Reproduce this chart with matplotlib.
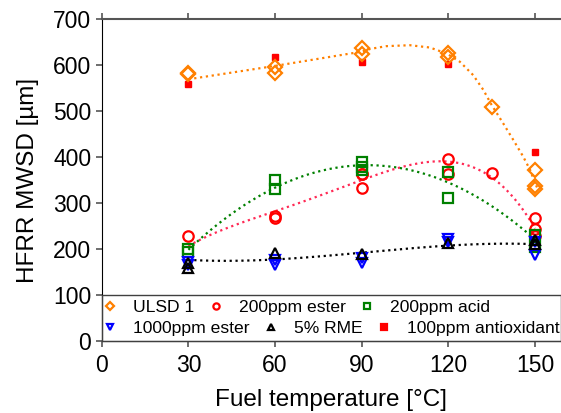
import numpy as np
import matplotlib
matplotlib.use("Agg")
import matplotlib.pyplot as plt
from matplotlib.lines import Line2D
from matplotlib.patches import Rectangle

plt.rcParams['font.family'] = ['Liberation Sans', 'DejaVu Sans']

# HFRR wear scar (um) vs fuel temperature (C)
ulsd_t = [30, 30, 60, 60, 90, 90, 120, 120, 135, 150, 150, 150]
ulsd_v = [582, 580, 596, 583, 636, 624, 625, 617, 508, 372, 338, 330]

ester200_t = [30, 60, 60, 90, 90, 90, 120, 120, 135, 150, 150, 150]
ester200_v = [228, 272, 268, 364, 362, 332, 395, 364, 366, 267, 243, 228]

acid200_t = [30, 30, 60, 60, 90, 90, 90, 120, 120, 150, 150]
acid200_v = [201, 194, 351, 330, 390, 379, 372, 368, 310, 230, 205]

ester1000_t = [30, 30, 60, 60, 90, 90, 120, 120, 150, 150]
ester1000_v = [172, 165, 176, 165, 180, 169, 221, 216, 215, 187]

rme_t = [30, 30, 60, 90, 120, 150, 150]
rme_v = [169, 158, 192, 190, 212, 220, 210]

antiox_t = [30, 60, 90, 120, 150]
antiox_v = [559, 617, 607, 602, 411]

# trend lines as drawn in the reference
ulsd_fit_t = [30, 60, 90, 93, 98.6, 106.7, 113.6, 119.4, 124, 128.6, 132.1,
              135, 139, 142.5, 145.9, 148.3, 150, 151]
ulsd_fit_v = [569, 598, 629, 635, 641, 643, 638, 625, 607, 578, 546,
              513, 473, 437, 401, 372, 343, 330]

ester200_fit_t = [30, 60, 87, 100, 115, 120, 134.4, 147.1, 150]
ester200_fit_v = [207, 280, 346, 375, 385, 384, 366, 277, 240]

acid200_fit_t = [30, 60, 92, 120, 134.4, 147.1, 151]
acid200_fit_v = [200, 330, 383, 346, 296, 241, 210]

rme_fit_t = [30, 60, 90, 96, 120, 150, 152]
rme_fit_v = [176, 179, 189, 196, 209, 210, 210]

series = [
    # label, t, v, marker, colour
    ("ULSD 1", ulsd_t, ulsd_v, "D", "#ff8000"),
    ("200ppm ester", ester200_t, ester200_v, "o", "#ff0000"),
    ("200ppm acid", acid200_t, acid200_v, "s", "#008000"),
    ("1000ppm ester", ester1000_t, ester1000_v, "v", "#0000ff"),
    ("5% RME", rme_t, rme_v, "^", "#000000"),
]

trends = [
    # t, v, polynomial degree (None = draw through the read points), colour
    (ulsd_fit_t, ulsd_fit_v, None, "#ff8000"),
    (ester200_fit_t, ester200_fit_v, 4, "#ff2a55"),
    (acid200_fit_t, acid200_fit_v, 2, "#008000"),
    (rme_fit_t, rme_fit_v, 3, "#000000"),
]

fig = plt.figure(figsize=(5.61, 4.13), dpi=100)
ax = fig.add_axes([0.1813, 0.1743, 0.8187, 0.7797])

for t, v, deg, fc in trends:
    if deg is None:
        ax.plot(t, v, ':', color=fc, lw=1.6, zorder=2)
        continue
    coef = np.polyfit(t, v, deg)
    xs = np.linspace(min(t), max(t), 200)
    ax.plot(xs, np.polyval(coef, xs), ':', color=fc, lw=1.6, zorder=2)

# antioxidant sits under the diamonds
ax.plot(antiox_t, antiox_v, 's', color='#ff0000', ms=5, mec='#ff0000', zorder=3)

sizes = {"D": 7.5, "o": 7.5, "s": 6.8, "v": 7.2, "^": 7.2}
for label, t, v, m, c in series:
    ax.plot(t, v, m, ms=sizes[m], mfc='none', mec=c, mew=1.6, zorder=4)

ax.set_xlim(0, 159)
ax.set_ylim(0, 700)
ax.set_xticks([0, 30, 60, 90, 120, 150])
ax.set_yticks(np.arange(0, 701, 100))

ax.spines['right'].set_visible(False)
ax.spines['top'].set_color('#555555')
ax.spines['top'].set_linewidth(1.5)
ax.spines['left'].set_color('black')
ax.spines['bottom'].set_color('#333333')
ax.tick_params(axis='both', labelsize=16.5, color='#555555', length=4, width=1.2, direction='out')
ax.tick_params(axis='x', which='both', top=True, pad=5)

ax.set_xlabel("Fuel temperature [°C]", fontsize=17.5, labelpad=9)
ax.set_ylabel("HFRR MWSD [µm]", fontsize=17.5, labelpad=10)

# legend: two rows laid out like the original, inside a frame at the bottom
ax.add_patch(Rectangle((0, 0), 1, 100 / 700, transform=ax.transAxes, fill=False,
                       edgecolor='#404040', lw=1.0, zorder=5, clip_on=False))

def handle(m, c, filled=False):
    return Line2D([], [], ls='none', marker=m, ms=4.5, mew=1.6,
                  mfc=c if filled else 'none', mec=c)

row1 = [handle("D", "#ff8000"), handle("o", "#ff0000"), handle("s", "#008000")]
row2 = [handle("v", "#0000ff"), handle("^", "#000000"), handle("s", "#ff0000", True)]
labels1 = ["ULSD 1", "200ppm ester", "200ppm acid"]
labels2 = ["1000ppm ester", "5% RME", "100ppm antioxidant"]

leg_kw = dict(ncol=3, frameon=False, fontsize=12.6, handlelength=1.0,
              handletextpad=0.8, columnspacing=0.72, borderpad=0,
              borderaxespad=0, loc='center left')
leg1 = ax.legend(row1, labels1, bbox_to_anchor=(0.0, 0.1030), **leg_kw)
ax.add_artist(leg1)
ax.legend(row2, labels2, bbox_to_anchor=(0.0, 0.0380), **leg_kw)

fig.savefig("out.png", dpi=100)
